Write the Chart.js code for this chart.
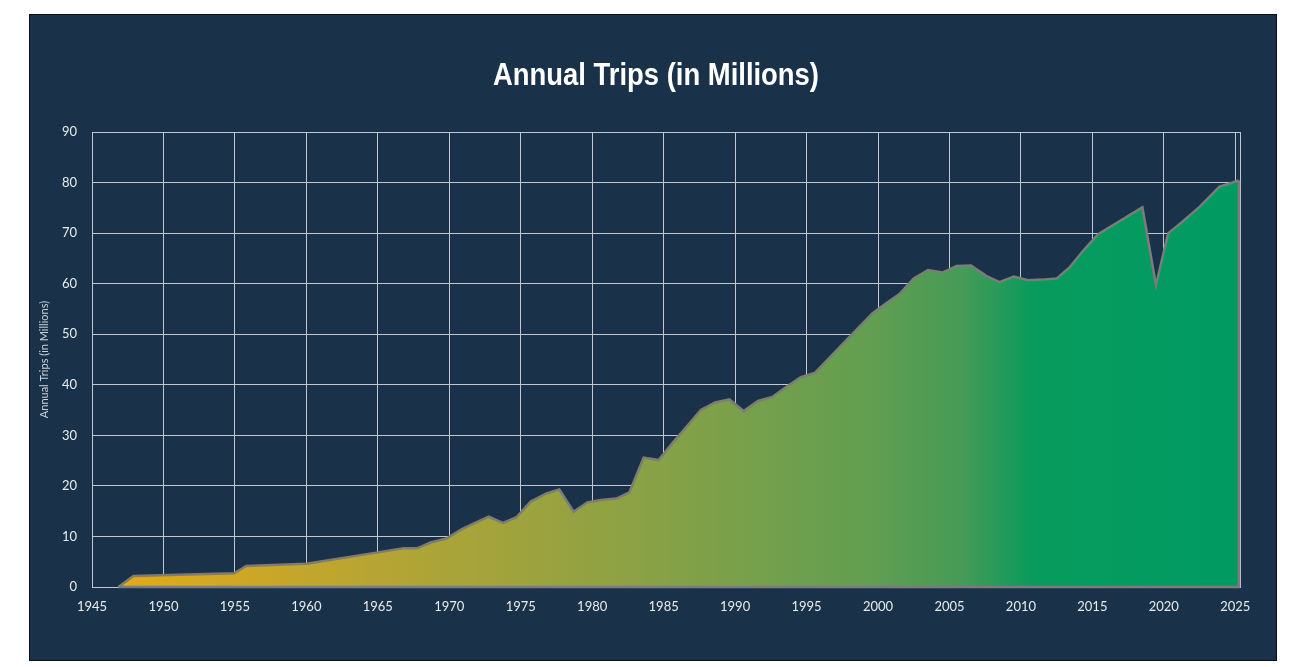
<!DOCTYPE html>
<html>
<head>
<meta charset="utf-8">
<script src="https://cdn.jsdelivr.net/npm/chart.js@4.4.0/dist/chart.umd.min.js"></script>
<style>
  body { margin: 0; background: #ffffff; }
  #card {
    position: absolute; left: 29px; top: 14px;
    width: 1246px; height: 645px;
    background: #1a3249; border: 1px solid #0b0f14;
  }
  #card canvas { display: block; }
</style>
</head>
<body>
<div id="card"><canvas id="tripsChart" width="1246" height="645"></canvas></div>
<script>
// years as plotted (points sit a little past the gridline)
const years = [
  1946.85, 1947.9, 1954.93, 1955.8, 1960.0, 1964.9, 1966.8, 1967.75, 1968.7, 1969.8,
  1970.85, 1971.8, 1972.76, 1973.76, 1974.7, 1975.7, 1976.8, 1977.7, 1978.7, 1979.66,
  1980.6, 1981.7, 1982.6, 1983.6, 1984.65, 1985.6, 1986.6, 1987.6, 1988.6, 1989.6,
  1990.6, 1991.6, 1992.6, 1993.6, 1994.6, 1995.6, 1998.6, 1999.6, 2000.57, 2001.5,
  2002.5, 2003.5, 2004.5, 2005.5, 2006.5, 2007.6, 2008.5, 2009.5, 2010.5, 2011.5,
  2012.5, 2013.4, 2014.4, 2015.4, 2018.5, 2019.45, 2020.3, 2021.3, 2022.5, 2023.9,
  2025.25
];
const trips = [
  0, 2.2, 2.7, 4.15, 4.6, 6.8, 7.65, 7.65, 8.8, 9.6,
  11.4, 12.7, 13.9, 12.7, 13.8, 16.9, 18.5, 19.3, 14.9, 16.75,
  17.2, 17.5, 18.7, 25.6, 25.1, 28.4, 31.7, 35.0, 36.5, 37.1,
  34.8, 36.8, 37.6, 39.6, 41.5, 42.4, 51.2, 54.1, 56.1, 57.95,
  61.05, 62.7, 62.2, 63.5, 63.6, 61.5, 60.3, 61.4, 60.7, 60.8,
  61.0, 63.2, 66.65, 69.8, 75.1, 59.7, 69.95, 72.25, 75.2, 79.2,
  80.4
];
const xMin = 1945, xMax = 2025.4, xStep = 5;
const yMin = 0, yMax = 90, yStep = 10;
const chartTitle = "Annual Trips (in Millions)";

const gridColor = "#c3c8ce";
const lineColor = "#7c7c7c";
const textColor = "#e8ebee";
const fontFamily = "Lato, 'Open Sans', sans-serif";

function areaGradient(context) {
  const area = context.chart.chartArea;
  if (!area) return "#8aa143";
  const g = context.chart.ctx.createLinearGradient(area.left, 0, area.right, 0);
  g.addColorStop(0, "#e9aa14");
  g.addColorStop(0.25, "#b5a534");
  g.addColorStop(0.5, "#86a147");
  g.addColorStop(0.68, "#619e51");
  g.addColorStop(0.76, "#449a57");
  g.addColorStop(0.82, "#089b5d");
  g.addColorStop(1, "#009a62");
  return g;
}

// narrow bold title, drawn as text above the plot
const narrowTitle = {
  id: "narrowTitle",
  afterDraw(chart) {
    const ctx = chart.ctx;
    ctx.save();
    ctx.font = "bold 31px 'Liberation Sans', Arial, sans-serif";
    ctx.fillStyle = "#ffffff";
    ctx.textAlign = "center";
    ctx.textBaseline = "middle";
    const w = ctx.measureText(chartTitle).width;
    const sx = 326 / w;
    ctx.translate(626, 61);
    ctx.scale(sx, 1);
    ctx.fillText(chartTitle, 0, 0);
    ctx.restore();
  }
};

// right edge of the plot and the closing outline of the area
const outline = {
  id: "outline",
  beforeDatasetsDraw(chart) {
    const { ctx, chartArea } = chart;
    ctx.save();
    ctx.strokeStyle = gridColor;
    ctx.lineWidth = 1;
    ctx.beginPath();
    ctx.moveTo(chartArea.right - 0.5, chartArea.top);
    ctx.lineTo(chartArea.right - 0.5, chartArea.bottom);
    ctx.stroke();
    ctx.restore();
  },
  afterDatasetsDraw(chart) {
    const { ctx } = chart;
    const x = chart.scales.x, y = chart.scales.y;
    const xa = x.getPixelForValue(years[0]);
    const xb = x.getPixelForValue(years[years.length - 1]);
    const yb = y.getPixelForValue(trips[trips.length - 1]);
    const y0 = y.getPixelForValue(0);
    ctx.save();
    ctx.strokeStyle = lineColor;
    ctx.lineWidth = 2.5;
    ctx.lineJoin = "round";
    ctx.beginPath();
    ctx.moveTo(xb, yb);
    ctx.lineTo(xb, y0);
    ctx.lineTo(xa, y0);
    ctx.stroke();
    ctx.restore();
  }
};

new Chart(document.getElementById("tripsChart"), {
  type: "line",
  data: {
    datasets: [{
      label: chartTitle,
      data: years.map((yr, i) => ({ x: yr, y: trips[i] })),
      borderColor: lineColor,
      borderWidth: 2.5,
      backgroundColor: areaGradient,
      fill: "origin",
      pointRadius: 0,
      tension: 0,
    }]
  },
  options: {
    responsive: false,
    animation: false,
    layout: { padding: { left: 0, right: 35, top: 117, bottom: 0 } },
    plugins: {
      legend: { display: false },
      tooltip: { enabled: false },
      title: { display: false },
    },
    scales: {
      x: {
        type: "linear",
        min: xMin,
        max: xMax,
        afterFit: (s) => { s.height = 73; },
        ticks: {
          stepSize: xStep,
          includeBounds: false,
          color: textColor,
          padding: 12,
          maxRotation: 0,
          font: { family: fontFamily, size: 13 },
          callback: (v) => String(v),
        },
        grid: { color: gridColor, lineWidth: 1, drawTicks: false },
        border: { display: false },
      },
      y: {
        min: yMin,
        max: yMax,
        afterFit: (s) => { s.width = 62; },
        ticks: {
          stepSize: yStep,
          color: textColor,
          padding: 15,
          font: { family: fontFamily, size: 13 },
        },
        grid: { color: gridColor, lineWidth: 1, drawTicks: false },
        border: { color: gridColor },
        title: {
          display: true,
          text: chartTitle,
          color: "#c9d0d6",
          font: { family: fontFamily, size: 11 },
          padding: { top: 8, bottom: 0 },
        },
      },
    },
  },
  plugins: [outline, narrowTitle],
});
</script>
</body>
</html>
